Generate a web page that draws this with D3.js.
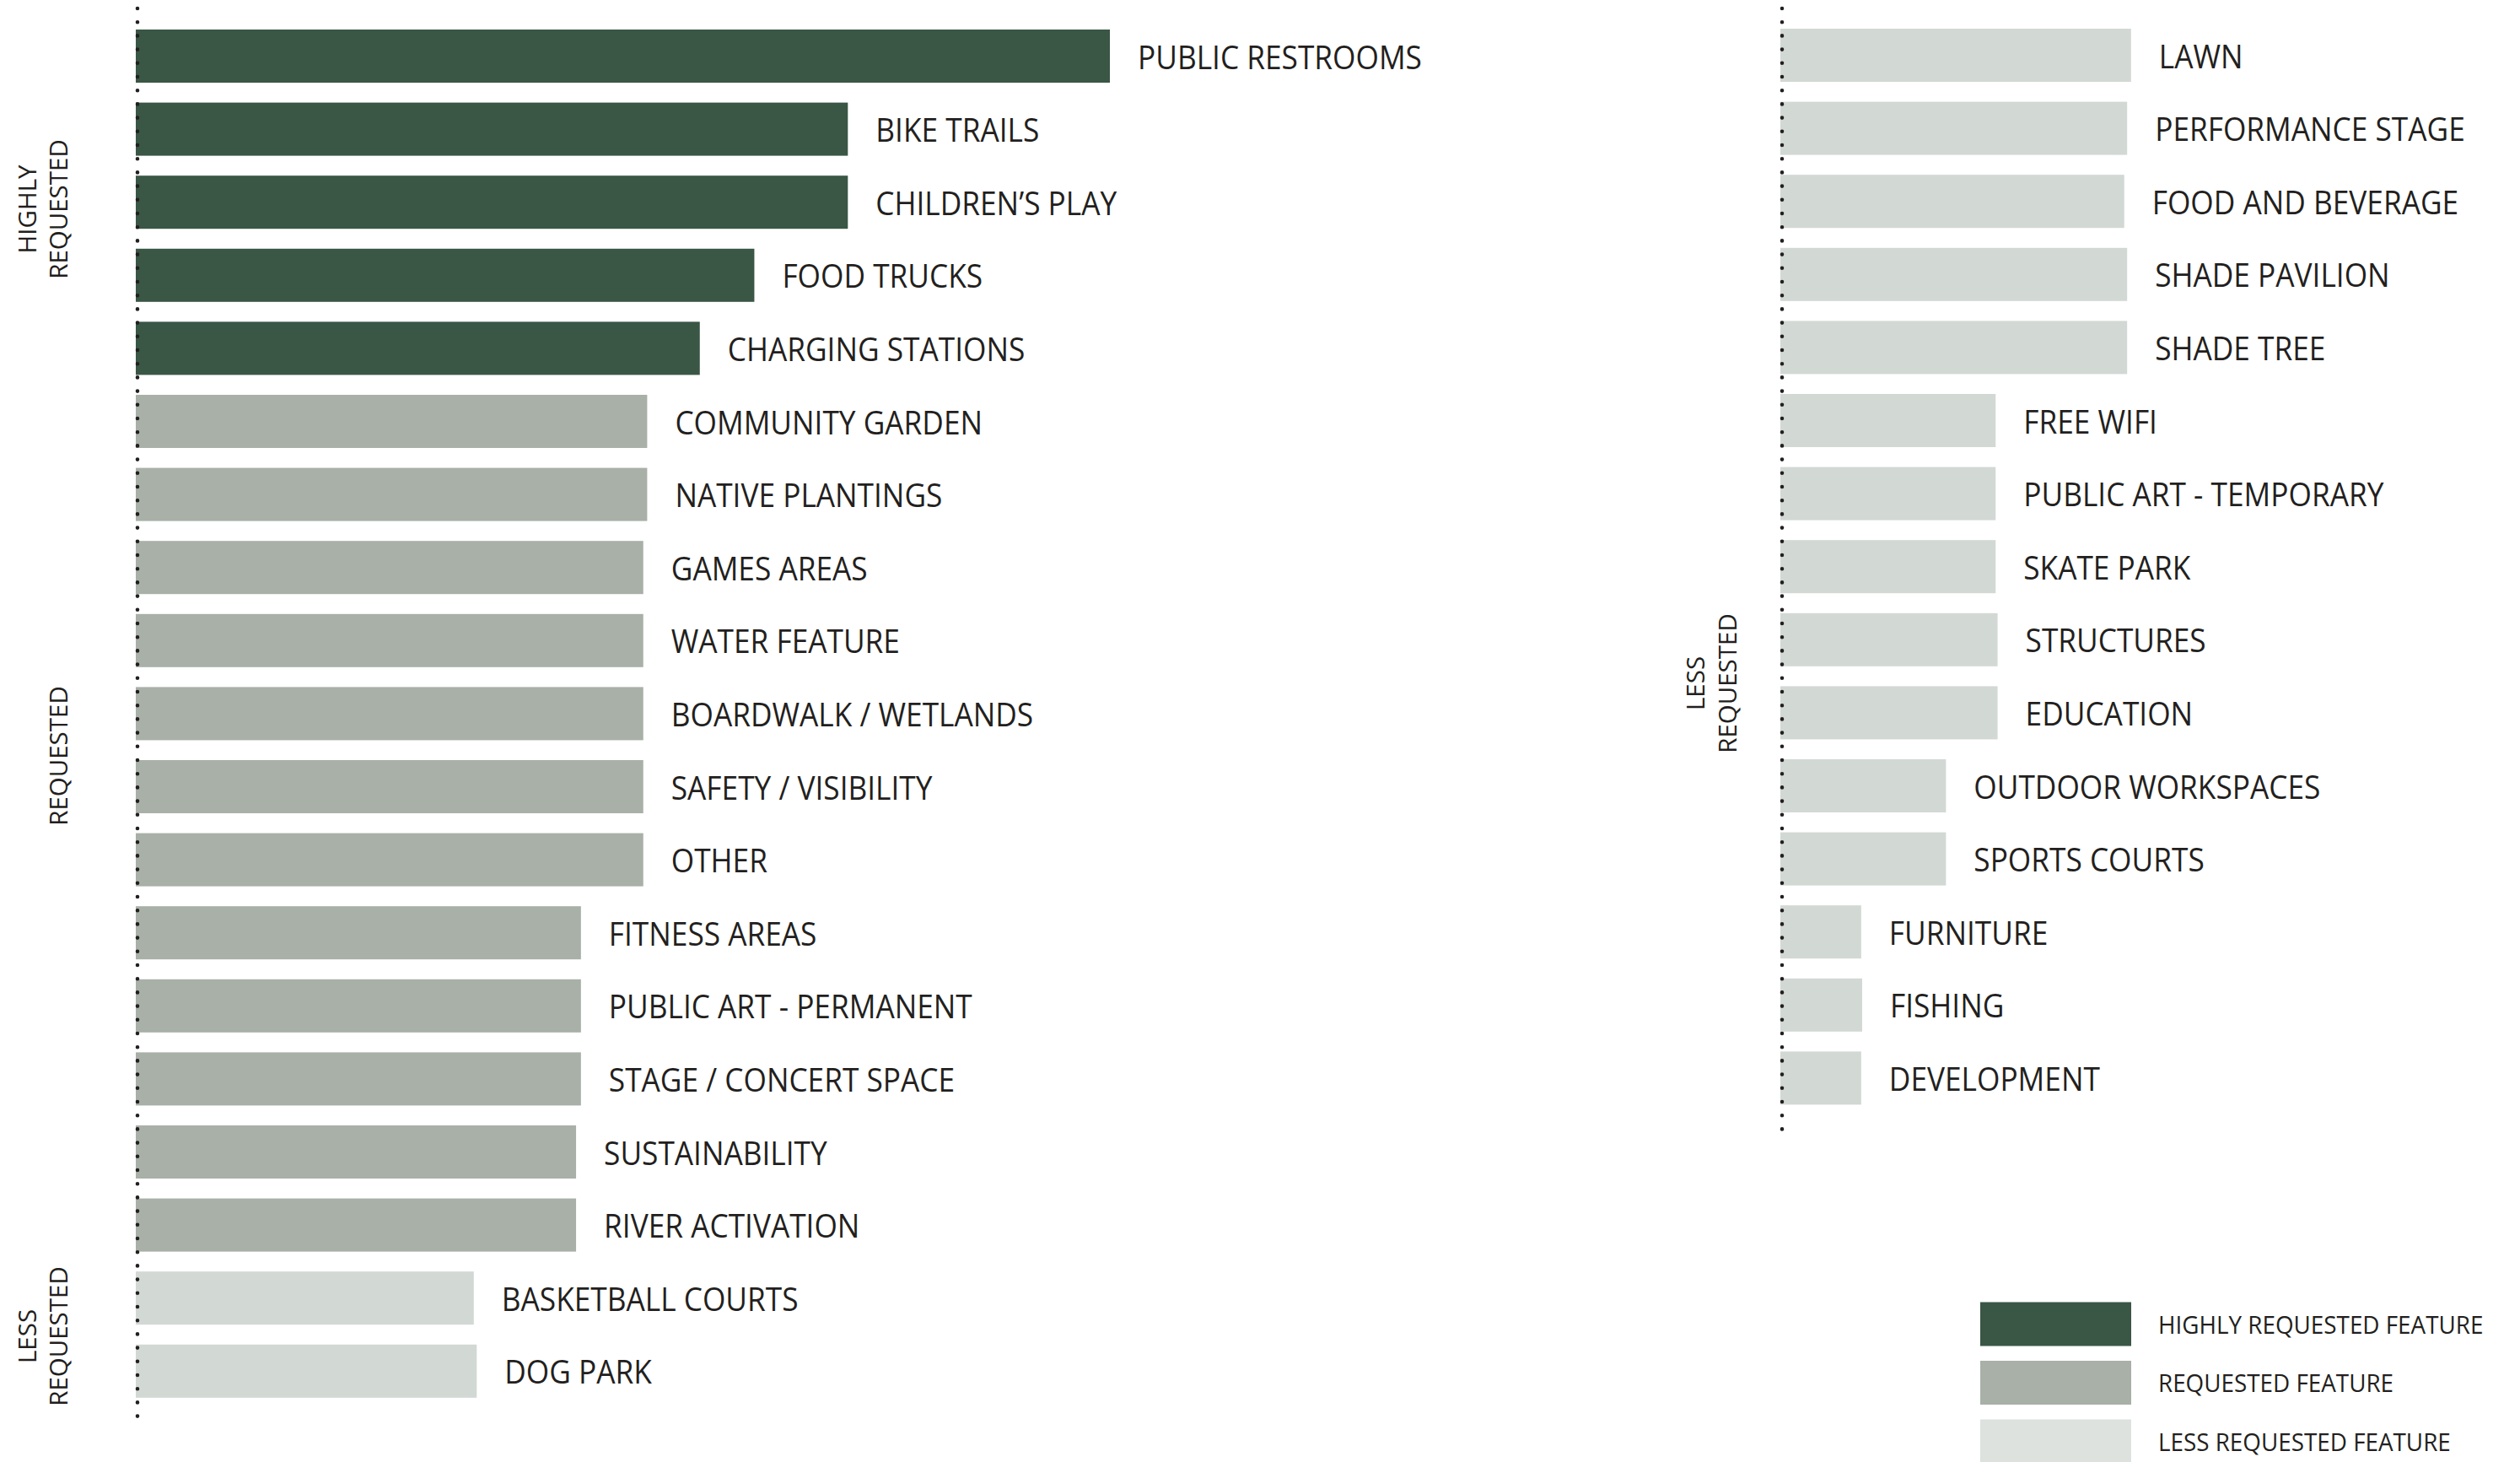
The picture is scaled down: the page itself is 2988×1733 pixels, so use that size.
<!DOCTYPE html>
<html>
<head>
<meta charset="utf-8">
<script src="https://cdn.jsdelivr.net/npm/d3@7"></script>
<style>
  html, body { margin: 0; padding: 0; background: #ffffff; }
  svg { display: block; }
  text { font-family: "Open Sans", "Noto Sans", sans-serif; fill: #231f20; }
</style>
</head>
<body>
<script>
// ---------- DATA ----------
const leftCategories = [
  "PUBLIC RESTROOMS", "BIKE TRAILS", "CHILDREN\u2019S PLAY", "FOOD TRUCKS", "CHARGING STATIONS",
  "COMMUNITY GARDEN", "NATIVE PLANTINGS", "GAMES AREAS", "WATER FEATURE", "BOARDWALK / WETLANDS",
  "SAFETY / VISIBILITY", "OTHER", "FITNESS AREAS", "PUBLIC ART - PERMANENT", "STAGE / CONCERT SPACE",
  "SUSTAINABILITY", "RIVER ACTIVATION", "BASKETBALL COURTS", "DOG PARK"
];
const leftValues = [100, 73.1, 73.1, 63.5, 57.9, 52.5, 52.5, 52.1, 52.1, 52.1, 52.1, 52.1, 45.7, 45.7, 45.7, 45.2, 45.2, 34.7, 35.0];
const leftLevels = ["high","high","high","high","high","mid","mid","mid","mid","mid","mid","mid","mid","mid","mid","mid","mid","low","low"];

const rightCategories = [
  "LAWN", "PERFORMANCE STAGE", "FOOD AND BEVERAGE", "SHADE PAVILION", "SHADE TREE",
  "FREE WIFI", "PUBLIC ART - TEMPORARY", "SKATE PARK", "STRUCTURES", "EDUCATION",
  "OUTDOOR WORKSPACES", "SPORTS COURTS", "FURNITURE", "FISHING", "DEVELOPMENT"
];
const rightValues = [36.0, 35.6, 35.3, 35.6, 35.6, 22.1, 22.1, 22.1, 22.3, 22.3, 17.0, 17.0, 8.3, 8.4, 8.3];
const rightLevels = rightCategories.map(() => "low");

const levelKeys = ["high", "mid", "low"];
const legendLabels = ["HIGHLY REQUESTED FEATURE", "REQUESTED FEATURE", "LESS REQUESTED FEATURE"];
const groupLabelsLeft = [["HIGHLY", "REQUESTED"], ["REQUESTED"], ["LESS", "REQUESTED"]];
const groupLabelsRight = [["LESS", "REQUESTED"]];

// ---------- SETUP ----------
const W = 2988, H = 1733;
const svg = d3.select("body").append("svg").attr("width", W).attr("height", H);

const color = d3.scaleOrdinal().domain(levelKeys).range(["#3a5645", "#a8b0a8", "#d2d8d4"]);
const legendColor = d3.scaleOrdinal().domain(levelKeys).range(["#3a5645", "#a8b0a8", "#dde2de"]);

const STEP = 86.6, PAD = 0.2725;
const x = d3.scaleLinear().domain([0, 100]).range([0, 1155]);

const FS = 38;          // label font size
let SX = 0.86;          // horizontal compression (Myriad-like)
{
  const t = svg.append("text").attr("font-size", FS).text("PUBLIC RESTROOMS");
  const len = t.node().getComputedTextLength();
  if (len > 0) SX = 337 / len;
  t.remove();
}

function drawPanel(cats, vals, levels, originX, top, dotsEnd, labelOffset) {
  const n = cats.length;
  const y = d3.scaleBand().domain(d3.range(n))
    .range([top, top + STEP * (n - PAD)]).paddingInner(PAD).paddingOuter(0);
  const g = svg.append("g");

  g.selectAll("rect.bar").data(vals).join("rect")
    .attr("class", "bar")
    .attr("x", originX)
    .attr("y", (d, i) => y(i))
    .attr("width", d => x(d))
    .attr("height", y.bandwidth())
    .attr("fill", (d, i) => color(levels[i]));

  g.append("line")
    .attr("x1", originX + 2).attr("x2", originX + 2)
    .attr("y1", 10).attr("y2", dotsEnd)
    .attr("stroke", "#231f20").attr("stroke-width", 4.6)
    .attr("stroke-linecap", "round")
    .attr("stroke-dasharray", "0 16.2");

  g.selectAll("text.lab").data(cats).join("text")
    .attr("class", "lab")
    .attr("font-size", FS)
    .attr("transform", (d, i) =>
      `translate(${originX + x(vals[i]) + labelOffset},${y(i) + y.bandwidth() / 2 + FS * 0.36 + 1.5}) scale(${SX},1)`)
    .text(d => d);
  return y;
}

const yL = drawPanel(leftCategories, leftValues, leftLevels, 161, 35, 1688, 33);
const yR = drawPanel(rightCategories, rightValues, rightLevels, 2111, 34, 1342, 33);

// ---------- GROUP LABELS (rotated) ----------
function groupLabel(lines, cy, cxs) {
  const cx = lines.length === 2 ? cxs : [cxs[1]];
  lines.forEach((ln, k) => {
    svg.append("text")
      .attr("font-size", 29.5)
      .attr("text-anchor", "middle")
      .attr("transform", `translate(${cx[k] + 10.5},${cy}) rotate(-90)`)
      .text(ln);
  });
}
const leftGroupCenters = [248, 896, 1584];
groupLabelsLeft.forEach((d, i) => groupLabel(d, leftGroupCenters[i], [32, 69]));
groupLabelsRight.forEach(d => groupLabel(d, 810, [2010, 2048]));

// ---------- LEGEND ----------
const legY = d3.scalePoint().domain(levelKeys).range([1569, 1708]);
const lg = svg.append("g");
lg.selectAll("rect").data(levelKeys).join("rect")
  .attr("x", 2348).attr("y", d => legY(d) - 25.5)
  .attr("width", 179).attr("height", 52)
  .attr("fill", d => legendColor(d));
lg.selectAll("text").data(levelKeys).join("text")
  .attr("font-size", 30)
  .attr("transform", (d, i) => `translate(2559,${legY(d) + 30 * 0.36 + 1}) scale(${SX},1)`)
  .text((d, i) => legendLabels[i]);
</script>
</body>
</html>
